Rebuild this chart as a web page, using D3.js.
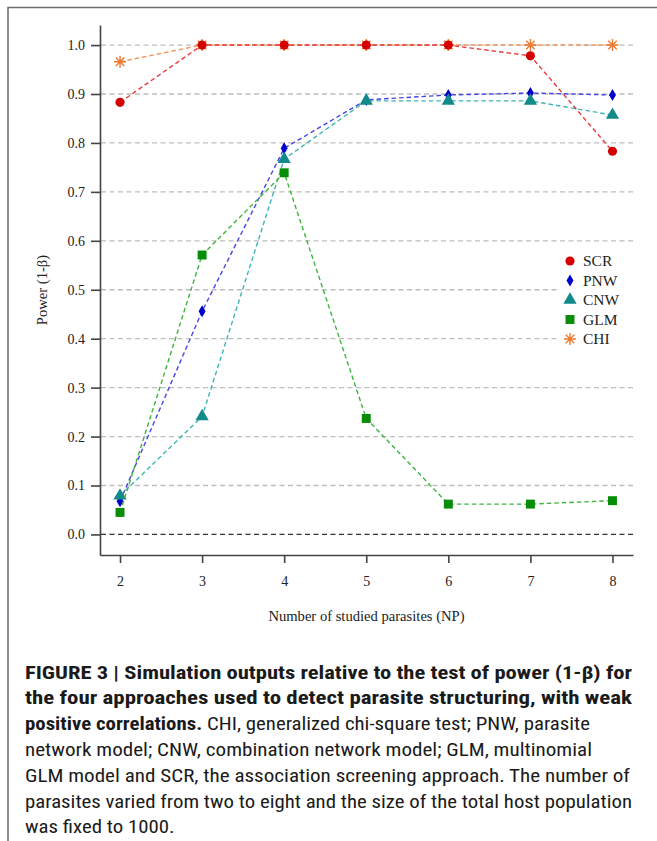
<!DOCTYPE html>
<html>
<head>
<meta charset="utf-8">
<script src="https://cdn.jsdelivr.net/npm/d3@7"></script>
<style>
  body { margin: 0; background: #fff; }
  svg { display: block; }
</style>
</head>
<body>
<div id="chart"></div>
<script>
// values
let npValues = [2, 3, 4, 5, 6, 7, 8];
let scrPower = [0.883, 1.0, 1.0, 1.0, 1.0, 0.978, 0.783];
let pnwPower = [0.068, 0.456, 0.789, 0.888, 0.898, 0.902, 0.898];
let cnwPower = [0.079, 0.241, 0.767, 0.886, 0.886, 0.886, 0.857];
let glmPower = [0.045, 0.571, 0.739, 0.237, 0.062, 0.062, 0.069];
let chiPower = [0.966, 1.0, 1.0, 1.0, 1.0, 1.0, 1.0];
let yTicks = [0, 0.1, 0.2, 0.3, 0.4, 0.5, 0.6, 0.7, 0.8, 0.9, 1.0];
let legendNames = ["SCR", "PNW", "CNW", "GLM", "CHI"];
let captionLines = [
  [{b: true, t: "FIGURE 3 | Simulation outputs relative to the test of power (1-\u03b2) for"}],
  [{b: true, t: "the four approaches used to detect parasite structuring, with weak"}],
  [{b: true, t: "positive correlations."}, {b: false, t: " CHI, generalized chi-square test; PNW, parasite"}],
  [{b: false, t: "network model; CNW, combination network model; GLM, multinomial"}],
  [{b: false, t: "GLM model and SCR, the association screening approach. The number of"}],
  [{b: false, t: "parasites varied from two to eight and the size of the total host population"}],
  [{b: false, t: "was fixed to 1000."}]
];

let W = 657, H = 841;
let svg = d3.select("#chart").append("svg")
    .attr("width", W)
    .attr("height", H);

// frame around the figure
svg.append("path")
    .attr("d", "M8,841 V7.5 H657")
    .attr("fill", "none")
    .attr("stroke", "#6e6e6e")
    .attr("stroke-width", 1.6);

let x = d3.scaleLinear().domain([1.756, 8.25]).range([100, 633]);
let y = d3.scaleLinear().domain([-0.042, 1.041]).range([555, 25]);

let serif = "'Liberation Serif', 'Times New Roman', serif";

// grid lines
svg.append("g")
  .selectAll("line")
  .data(yTicks)
  .enter()
  .append("line")
    .attr("x1", 101)
    .attr("x2", 633)
    .attr("y1", d => y(d))
    .attr("y2", d => y(d))
    .attr("stroke", d => d === 0 ? "#333" : "#bdbdbd")
    .attr("stroke-width", 1.3)
    .attr("stroke-dasharray", "5,3.5");

// axes
let yAxis = d3.axisLeft(y).tickValues(yTicks).tickFormat(d3.format(".1f"))
    .tickSize(9).tickSizeOuter(0).tickPadding(6);
let xAxis = d3.axisBottom(x).tickValues(npValues).tickFormat(d3.format("d"))
    .tickSize(8).tickSizeOuter(0).tickPadding(13);

let gy = svg.append("g").attr("transform", "translate(100,0)").call(yAxis);
let gx = svg.append("g").attr("transform", "translate(0,555)").call(xAxis);
[gx, gy].forEach(function(g) {
  g.select(".domain").attr("stroke", "#444").attr("stroke-width", 1.6);
  g.selectAll(".tick line").attr("stroke", "#444").attr("stroke-width", 1.6);
  g.selectAll(".tick text")
    .attr("fill", "#222")
    .style("font-family", serif)
    .style("font-size", "14px");
});

// axis titles
svg.append("text")
    .attr("x", 366.5)
    .attr("y", 621)
    .attr("text-anchor", "middle")
    .style("font-family", serif)
    .style("font-size", "14.6px")
    .attr("fill", "#222")
    .text("Number of studied parasites (NP)");

svg.append("text")
    .attr("transform", "translate(47,290) rotate(-90)")
    .attr("text-anchor", "middle")
    .style("font-family", serif)
    .style("font-size", "14.6px")
    .attr("fill", "#222")
    .text("Power (1-\u03b2)");

// series
let asterisk = function(r) {
  let a = r * 0.7071;
  return "M" + (-r) + ",0H" + r + "M0," + (-r) + "V" + r +
    "M" + (-a) + "," + (-a) + "L" + a + "," + a +
    "M" + (-a) + "," + a + "L" + a + "," + (-a);
};

let series = [
  {name: "CHI", values: chiPower, line: "#f0955a", fill: "#ee7a32", shape: "star"},
  {name: "PNW", values: pnwPower, line: "#4545e8", fill: "#0000cc", shape: d3.symbolDiamond, size: 42},
  {name: "CNW", values: cnwPower, line: "#3fb5b5", fill: "#138a8a", shape: d3.symbolTriangle, size: 76},
  {name: "GLM", values: glmPower, line: "#3fb53f", fill: "#068c06", shape: d3.symbolSquare, size: 80},
  {name: "SCR", values: scrPower, line: "#e83a3a", fill: "#d40000", shape: d3.symbolCircle, size: 66}
];

let line = d3.line()
    .x(d => x(d.np))
    .y(d => y(d.p));

function drawMarker(g, s) {
  if (s.shape === "star") {
    g.append("path")
      .attr("d", asterisk(6))
      .attr("fill", "none")
      .attr("stroke", s.fill)
      .attr("stroke-width", 1.4);
  } else {
    g.append("path")
      .attr("d", d3.symbol().type(s.shape).size(s.size)())
      .attr("fill", s.fill);
  }
}

series.forEach(function(s) {
  let pts = npValues.map((np, i) => ({np: np, p: s.values[i]}));
  svg.append("path")
      .datum(pts)
      .attr("fill", "none")
      .attr("stroke", s.line)
      .attr("stroke-width", 1.4)
      .attr("stroke-dasharray", "4.5,3")
      .attr("d", line);
  pts.forEach(function(d) {
    let g = svg.append("g")
        .attr("transform", "translate(" + x(d.np) + "," + y(d.p) + ")");
    drawMarker(g, s);
  });
});

// legend
let legend = svg.append("g");
legend.append("rect")
    .attr("x", 557)
    .attr("y", 248)
    .attr("width", 76)
    .attr("height", 102)
    .attr("fill", "#fff");

legendNames.forEach(function(name, i) {
  let s = series.find(d => d.name === name);
  let ly = 261 + i * 19.5;
  let g = legend.append("g").attr("transform", "translate(570," + ly + ")");
  drawMarker(g, s);
  legend.append("text")
      .attr("x", 583)
      .attr("y", ly)
      .attr("dy", "0.35em")
      .style("font-family", serif)
      .style("font-size", "15.5px")
      .attr("fill", "#222")
      .text(name);
});

// caption
let capWidths = [607, 607, 565, 567, 605, 607, null];
let cap = svg.append("g")
    .style("font-family", "'Liberation Sans Narrow', 'Roboto Condensed', Arial, sans-serif")
    .style("font-size", "18px")
    .attr("fill", "#1a1a1a");

let ratio = 1;
captionLines.forEach(function(parts, i) {
  let t = cap.append("text")
      .attr("x", 25)
      .attr("y", 678.5 + i * 25.8);
  parts.forEach(function(p) {
    t.append("tspan")
      .style("font-weight", p.b ? "bold" : "normal")
      .text(p.t);
  });
  let natural = t.node().getComputedTextLength();
  if (capWidths[i]) {
    ratio = capWidths[i] / natural;
    t.attr("textLength", capWidths[i]).attr("lengthAdjust", "spacingAndGlyphs");
  } else {
    t.attr("textLength", natural * ratio).attr("lengthAdjust", "spacingAndGlyphs");
  }
});
</script>
</body>
</html>
